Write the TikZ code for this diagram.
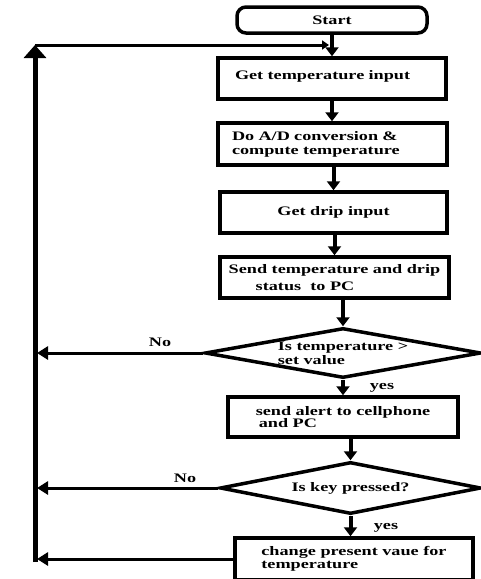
\documentclass[tikz,border=0pt]{standalone}
\usepackage{fontspec}
\setmainfont{Liberation Serif}[FakeStretch=1.4]
\usetikzlibrary{arrows.meta,shapes.geometric}

\tikzset{
  stepbox/.style={draw, line width=3.5pt, inner sep=0pt, align=left,
    font=\bfseries\fontsize{13}{14}\selectfont},
  startbox/.style={stepbox, rounded corners=9pt, align=center},
  decision/.style={diamond, draw, line width=3.5pt, inner sep=0pt, align=left,
    font=\bfseries\fontsize{13}{14}\selectfont},
  lbl/.style={font=\bfseries\fontsize{13}{14}\selectfont},
  flow/.style={line width=4pt, -{Triangle[width=13pt,length=9pt]}},
  back/.style={line width=3pt, shorten >=2pt, -{Triangle[width=13pt,length=11pt]}},
  rail/.style={line width=5pt, -{Triangle[width=22pt,length=13pt]}},
  railtop/.style={line width=3pt, -{Triangle[width=9pt,length=7pt]}},
}

\begin{document}
\begin{tikzpicture}[x=1pt,y=-1pt]
            \useasboundingbox (0,0) rectangle (481,579);
            % main chain
            \node[startbox, minimum width=190pt, minimum height=26pt] (start) at (332,20) {Start};
            \node[stepbox, minimum width=228pt, minimum height=41pt, text width=194pt, inner xsep=17pt, text depth=8pt] (getTemp) at (332,78.5) {Get temperature input};
            \node[stepbox, minimum width=229pt, minimum height=42pt, text width=201pt, inner xsep=14pt] (doAD) at (332.5,144) {Do A/D conversion \&\\compute temperature};
            \node[stepbox, minimum width=227pt, minimum height=41pt, align=center] (getDrip) at (333.5,212.5) {Get drip input};
            \node[stepbox, minimum width=229pt, minimum height=41pt] (sendPC) at (334.5,277.5) {Send temperature and drip\\[3pt]\hspace*{27pt}status\ \ to PC};
            \node[decision, aspect=5.5, minimum width=276pt, minimum height=50pt] (isTemp) at (343,353) {Is temperature >\\set value};
            \node[stepbox, minimum width=230pt, minimum height=40pt] (alert) at (343,417) {send alert to cellphone\\[-2pt]\hspace*{3pt}and PC};
            \node[decision, aspect=5, minimum width=261pt, minimum height=52pt] (isKey) at (350.5,488) {Is key pressed?};
            \node[stepbox, minimum width=238pt, minimum height=42pt] (change) at (354,559) {change present vaue for\\[-1pt]temperature};
            % labels
            \node[lbl] (noTemp) at (160,342) {No};
            \node[lbl] (yesTemp) at (382,388) {yes};
            \node[lbl] (noKey) at (185,478) {No};
            \node[lbl] (yesKey) at (386,528) {yes};
            % arrows down
            \draw[flow] (start) -- (getTemp);
            \draw[flow] (getTemp.south) -- (getTemp.south |- doAD.north);
            \draw[flow] (getDrip.north |- doAD.south) -- (getDrip.north);
            \draw[flow] (sendPC.north |- getDrip.south) -- (sendPC.north);
            \draw[flow] (isTemp.north |- sendPC.south) -- (isTemp.north);
            \draw[flow] (isTemp.south) -- (isTemp.south |- alert.north);
            \draw[flow] (isKey.north |- alert.south) -- (isKey.north);
            \draw[flow] (isKey.south) -- (isKey.south |- change.north);
            % return path
            \coordinate (railTop) at (35,45);
            \coordinate (railBot) at (35,562);
            \coordinate (join) at ([xshift=-3pt]start.south |- railTop);
            \draw[rail] (railBot) -- (railTop);
            \draw[railtop] (railTop) -- (join);
            \draw[back] (isTemp.west) -- (isTemp.west -| railTop);
            \draw[back] (isKey.west) -- (isKey.west -| railTop);
            \draw[back] (change.west) -- (change.west -| railTop);
        \end{tikzpicture}
\end{document}
